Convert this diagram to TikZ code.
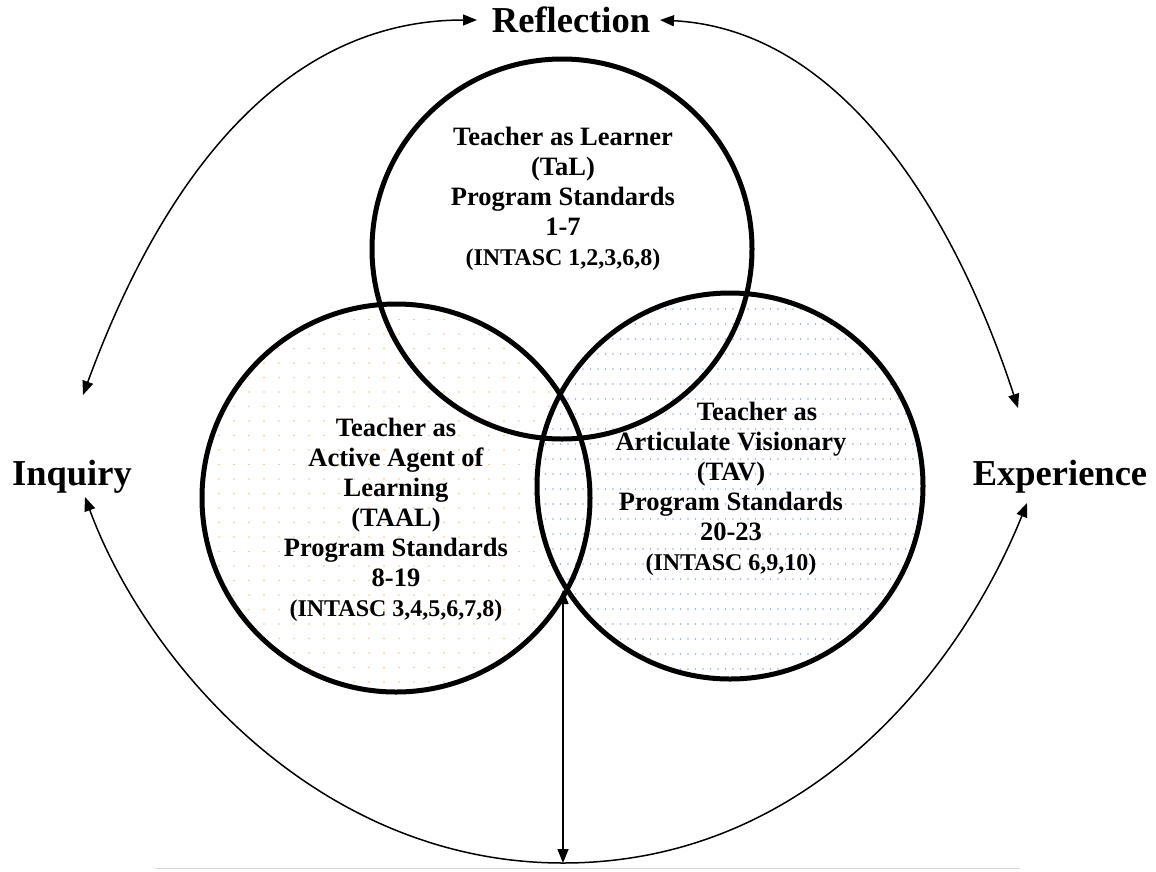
\documentclass[tikz,border=0pt]{standalone}
\usepackage{fontspec}
\setmainfont{Liberation Serif}
\usetikzlibrary{arrows.meta}
\definecolor{dotorange}{RGB}{248,196,130}
\definecolor{dotblue}{RGB}{150,170,235}
\definecolor{rulegray}{RGB}{217,217,217}
\begin{document}
\begin{tikzpicture}[x=1pt,y=-1pt,
  ring/.style={circle, draw, line width=5pt, inner sep=0pt, minimum size=#1},
  ctext/.style={align=center, inner sep=0pt, font=\bfseries\fontsize{26.5}{30}\selectfont},
  small/.style={font=\bfseries\fontsize{24}{28}\selectfont},
  biglabel/.style={inner sep=0pt, anchor=base, font=\bfseries\fontsize{36.5}{40}\selectfont},
  conn/.style={line width=1.5pt, {Triangle[length=14pt,width=11pt]}-{Triangle[length=14pt,width=11pt]}},
  dot/.style={inner sep=0pt}
]
\useasboundingbox (0,0) rectangle (1156,871);
% left circle dots
\begin{scope}
  \clip (396,498) circle[radius=194pt];
  \foreach \i in {0,...,26}{\foreach \j in {0,...,27}{
    \fill[dotorange] (204+\i*15, 305+\j*14.5) circle[radius=0.9pt];}}
\end{scope}
% right circle white + dots
\fill[white] (730,486) circle[radius=193pt];
\begin{scope}
  \clip (730,486) circle[radius=193pt];
  \foreach \i in {0,...,52}{\foreach \j in {0,...,27}{
    \fill[dotblue] (538+\i*7.5, 294+\j*15) circle[radius=0.8pt];}}
\end{scope}
% circles
\node[ring=388pt] (taal) at (396,498) {};
\node[ring=386pt] (tav) at (730,486) {};
\node[ring=380pt] (tal) at (562,249) {};
% circle texts
\node[ctext] (taltext) at (563,199) {Teacher as Learner\\(TaL)\\Program Standards\\1-7\\{\fontsize{24}{28}\selectfont (INTASC 1,2,3,6,8)}};
\node[ctext] (taaltext) at (396,520) {Teacher as\\Active Agent of\\Learning\\(TAAL)\\Program Standards\\8-19\\{\fontsize{24}{28}\selectfont (INTASC 3,4,5,6,7,8)}};
\node[ctext] (tavtext) at (731,489) {\hspace*{52pt}Teacher as\\Articulate Visionary\\(TAV)\\Program Standards\\20-23\\{\fontsize{24}{28}\selectfont (INTASC 6,9,10)}};
% outer labels
\node[biglabel] (refl) at (571,32) {Reflection};
\node[biglabel] (inq) at (72,485) {Inquiry};
\node[biglabel] (exp) at (1060,485) {Experience};
% connector end points
\coordinate (reflL) at (477,20);
\coordinate (reflR) at (660,20);
\coordinate (inqT) at (83,395);
\coordinate (inqB) at (85,497);
\coordinate (expT) at (1018,408);
\coordinate (expB) at (1027,503);
\coordinate (bot) at (563,863);
\coordinate (lens) at (563,590);
% connectors
\draw[conn] (inqT) .. controls (140,240) and (250,20) .. (reflL);
\draw[conn] (reflR) .. controls (850,30) and (960,230) .. (expT);
\draw[conn] (inqB) .. controls (145,660) and (316,863) .. (bot) .. controls (816,863) and (965,658) .. (expB);
\draw[conn] (lens) -- (bot);
% bottom rule
\draw[rulegray, line width=1pt] (155,868.5) -- (1020,868.5);
\end{tikzpicture}
\end{document}
